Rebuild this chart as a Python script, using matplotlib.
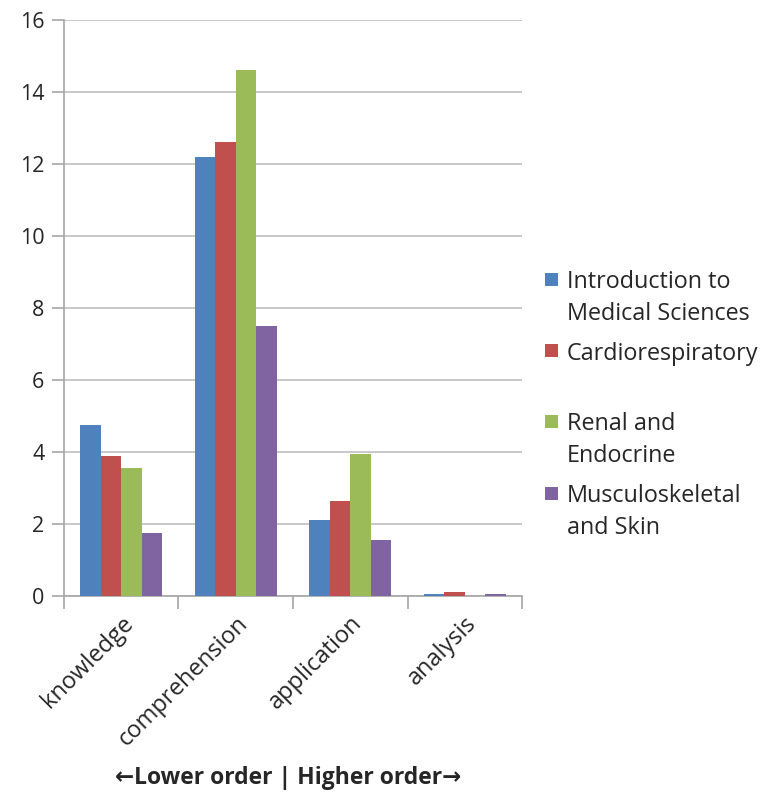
import numpy as np
import matplotlib.pyplot as plt
from matplotlib.patches import Rectangle

categories = ["knowledge", "comprehension", "application", "analysis"]
series_names = ["Introduction to\nMedical Sciences", "Cardiorespiratory",
                "Renal and\nEndocrine", "Musculoskeletal\nand Skin"]
intro_vals = [4.75, 12.2, 2.1, 0.05]
cardio_vals = [3.9, 12.6, 2.65, 0.1]
renal_vals = [3.55, 14.6, 3.95, 0.01]
musculo_vals = [1.75, 7.5, 1.55, 0.05]
colors = ["#4F81BD", "#C0504D", "#9BBB59", "#8064A2"]
yticks = [0, 2, 4, 6, 8, 10, 12, 14, 16]

plt.rcParams['font.family'] = ['Open Sans', 'DejaVu Sans']
txt_color = '#262626'

W, H = 761, 792
fig = plt.figure(figsize=(W / 100, H / 100), dpi=100)
ax = fig.add_axes([0.084, 0.2475, 0.602, 0.7272])

x = np.arange(len(categories))
w = 0.179
for i, (vals, c) in enumerate(zip([intro_vals, cardio_vals, renal_vals, musculo_vals], colors)):
    ax.bar(x + (i - 1.5) * w, vals, width=w, color=c, edgecolor='none', zorder=3)

ax.set_xlim(-0.5, len(categories) - 0.5)
ax.set_ylim(0, 16)
ax.set_yticks(yticks)
ax.set_yticklabels([str(t) for t in yticks], fontsize=15.5, color=txt_color)
ax.yaxis.grid(True, color='#BFBFBF', linewidth=1.2, zorder=0)
ax.tick_params(axis='y', length=9, width=1.2, color='#A6A6A6', pad=5)

# category names sit at the centres, tick marks at the boundaries
ax.set_xticks(np.arange(-0.5, len(categories), 1.0))
ax.set_xticklabels([])
ax.set_xticks(x, minor=True)
ax.set_xticklabels(categories, minor=True, rotation=45, ha='right',
                   rotation_mode='anchor', fontsize=17, color=txt_color)
ax.tick_params(axis='x', which='major', length=9, width=1.2, color='#A6A6A6')
ax.tick_params(axis='x', which='minor', length=0, pad=11)

for side in ['top', 'right']:
    ax.spines[side].set_visible(False)
for side in ['left', 'bottom']:
    ax.spines[side].set_color('#A6A6A6')
    ax.spines[side].set_linewidth(1.2)

# legend: square swatch beside the first line of each entry
first_line_y = [279, 351, 421, 493]
line_step = 32
for name, c, yc in zip(series_names, colors, first_line_y):
    fig.patches.append(Rectangle((545 / W, 1 - (yc + 6.5) / H), 13 / W, 13 / H,
                                 transform=fig.transFigure, facecolor=c,
                                 edgecolor='none'))
    for k, line in enumerate(name.split("\n")):
        fig.text(567 / W, 1 - (yc + k * line_step) / H, line, ha='left',
                 va='center_baseline', fontsize=16.8, color=txt_color)

fig.text(288 / W, 1 - 775 / H, "\u2190Lower order | Higher order\u2192",
         ha='center', va='center_baseline', fontsize=16.5, fontweight='bold',
         color=txt_color)

fig.savefig("out.png", dpi=100)
